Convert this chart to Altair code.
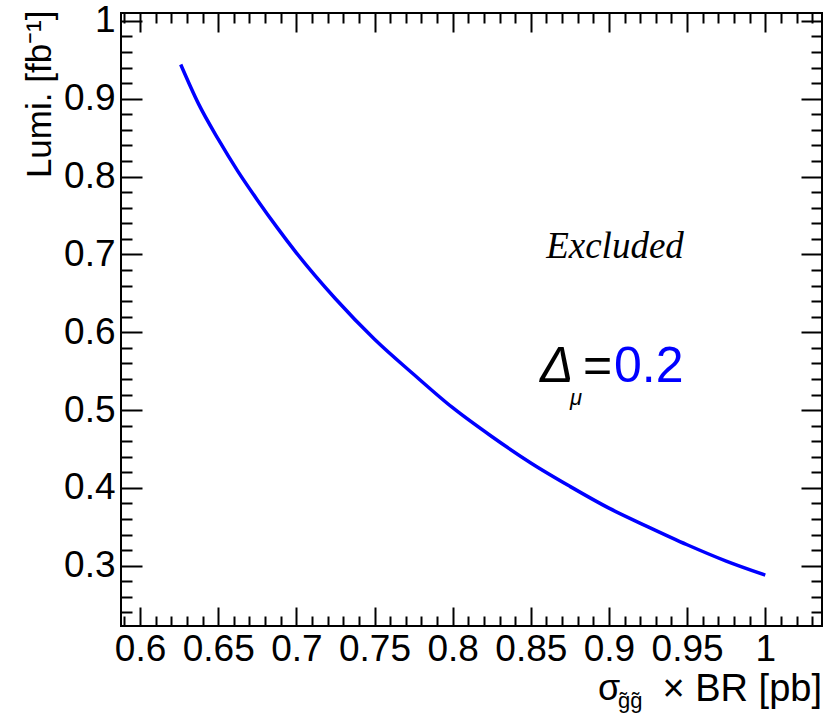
import altair as alt
import pandas as pd

# ---- data ----
sigma = [0.626, 0.6375, 0.65, 0.6625, 0.675, 0.6875, 0.70, 0.725, 0.75, 0.775,
         0.80, 0.825, 0.85, 0.875, 0.90, 0.925, 0.95, 0.975, 1.0]
lumi = [0.944, 0.893, 0.848, 0.807, 0.770, 0.735, 0.702, 0.643, 0.591, 0.546,
        0.503, 0.466, 0.432, 0.402, 0.374, 0.350, 0.327, 0.306, 0.288]

x_major = [0.6, 0.65, 0.7, 0.75, 0.8, 0.85, 0.9, 0.95, 1.0]
x_ticks = [round(0.59 + 0.01 * i, 2) for i in range(45)]
y_major = [0.3, 0.4, 0.5, 0.6, 0.7, 0.8, 0.9, 1.0]
y_ticks = [round(0.24 + 0.02 * i, 2) for i in range(39)]

X_DOMAIN = [0.5878, 1.0363]
Y_DOMAIN = [0.2226, 1.0101]
W, H = 701, 613
FONT = "Liberation Sans"

df = pd.DataFrame({"sigma": sigma, "lumi": lumi})

xs = alt.Scale(domain=X_DOMAIN, nice=False, zero=False)
ys = alt.Scale(domain=Y_DOMAIN, nice=False, zero=False)

x_cond = {"condition": {"test": "abs(datum.value*20 - round(datum.value*20)) < 0.001", "value": 19}, "value": 10}
y_cond = {"condition": {"test": "abs(datum.value*10 - round(datum.value*10)) < 0.001", "value": 21}, "value": 11}

tick_common = dict(labels=False, domain=False, title=None, grid=False,
                   tickColor="black", tickWidth=2)

# main line with label axes
line = alt.Chart(df).mark_line(color="#0000ff", strokeWidth=3.5, interpolate="monotone").encode(
    x=alt.X("sigma:Q", scale=xs, axis=alt.Axis(
        orient="bottom", values=x_major, format="~g", ticks=False, tickSize=0,
        domain=False, grid=False, labelFont=FONT, labelFontSize=37,
        labelColor="black", labelPadding=5, labelFlush=False, title=None)),
    y=alt.Y("lumi:Q", scale=ys, axis=alt.Axis(
        orient="left", values=y_major, format="~g", ticks=False, tickSize=0,
        domain=False, grid=False, labelFont=FONT, labelFontSize=37,
        labelColor="black", labelPadding=6, labelFlush=False,
        title="Lumi. [fb⁻¹]", titleFont=FONT, titleFontSize=35,
        titleFontWeight="normal", titleColor="black", titleAngle=270,
        titleAlign="right", titleBaseline="alphabetic", titleX=-71, titleY=-3)),
    order="sigma:Q",
)

# inward ticks on bottom and left edges
ticks_bl = alt.Chart(df).mark_line(opacity=0).encode(
    x=alt.X("sigma:Q", scale=xs, axis=alt.Axis(
        orient="top", offset=-H, values=x_ticks, tickSize=x_cond, **tick_common)),
    y=alt.Y("lumi:Q", scale=ys, axis=alt.Axis(
        orient="right", offset=-W, values=y_ticks, tickSize=y_cond, **tick_common)),
)

# inward ticks on top and right edges
ticks_tr = alt.Chart(df).mark_line(opacity=0).encode(
    x=alt.X("sigma:Q", scale=xs, axis=alt.Axis(
        orient="bottom", offset=-H, values=x_ticks, tickSize=x_cond, **tick_common)),
    y=alt.Y("lumi:Q", scale=ys, axis=alt.Axis(
        orient="left", offset=-W, values=y_ticks, tickSize=y_cond, **tick_common)),
)


def txt(s, x, y, size, color="black", font=FONT, style="normal", align="left"):
    return alt.Chart(pd.DataFrame({"t": [s]})).mark_text(
        font=font, fontSize=size, fontStyle=style, color=color, align=align,
        baseline="alphabetic").encode(text="t:N", x=alt.value(x), y=alt.value(y))


annotations = [
    txt("× BR [pb]", 701, 688, 38, align="right"),
    txt("σ", 477, 687, 36),
    txt("g̃g̃", 497, 695, 22),
    txt("Excluded", 494, 245, 37, font="Liberation Serif", style="italic", align="center"),
    txt("Δ", 419, 369, 50, style="italic"),
    txt("μ", 449, 392, 22, style="italic"),
    txt("=", 462, 369, 50),
    txt("0.2", 493, 369, 50, color="#0000ff"),
]

chart = alt.layer(line, ticks_bl, ticks_tr, *annotations).resolve_axis(
    x="independent", y="independent"
).properties(
    width=W, height=H,
    autosize=alt.AutoSizeParams(type="none"),
    padding={"left": 121, "top": 13, "right": 8, "bottom": 89},
    background="white",
).configure_view(stroke="black", strokeWidth=2)

chart.save("out.html", embed_options={"renderer": "svg", "actions": False})
